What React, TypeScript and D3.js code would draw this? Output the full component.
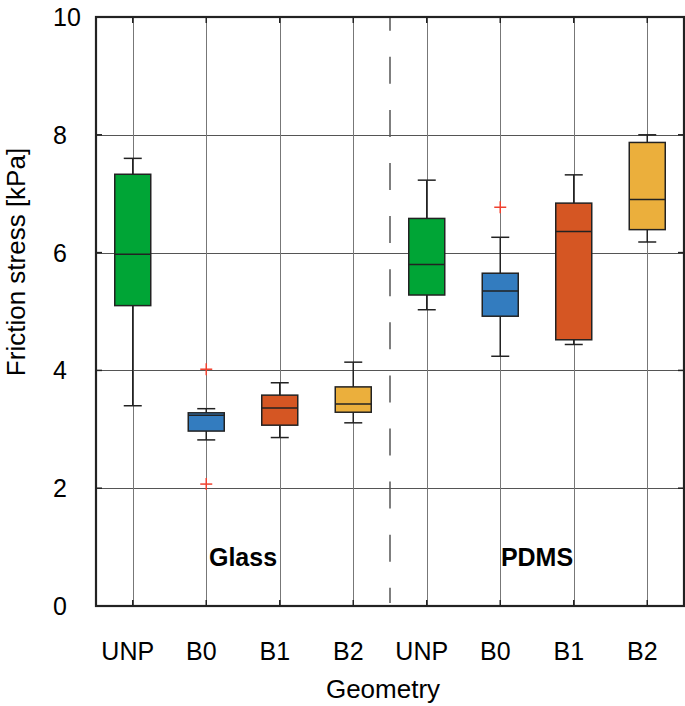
import React from "react";
import * as d3 from "d3";

const categories = ["UNP", "B0", "B1", "B2", "UNP", "B0", "B1", "B2"];
const groupLabels = ["Glass", "PDMS"];
const whiskerLow = [3.4, 2.82, 2.86, 3.11, 5.03, 4.24, 4.44, 6.18];
const q1 = [5.1, 2.97, 3.07, 3.29, 5.28, 4.92, 4.52, 6.39];
const median = [5.97, 3.24, 3.36, 3.43, 5.8, 5.35, 6.36, 6.9];
const q3 = [7.33, 3.28, 3.58, 3.72, 6.58, 5.65, 6.84, 7.87];
const whiskerHigh = [7.6, 3.35, 3.79, 4.14, 7.23, 6.26, 7.32, 8.0];
const outliers: number[][] = [[], [4.02, 2.07], [], [], [], [6.77], [], []];
const colors = ["#00A536", "#337CBF", "#D55623", "#EBAF3C"];
const yTicks = [0, 2, 4, 6, 8, 10];

const W = 685;
const H = 706;
const left = 96;
const right = 684;
const top = 17;
const bottom = 606;
const font = "'Liberation Sans', Arial, sans-serif";

export default function App() {
  const idx = categories.map((_, i) => i);
  const x = d3.scalePoint<number>().domain(idx).range([left, right]).padding(0.5);
  const y = d3.scaleLinear().domain([0, 10]).range([bottom, top]);
  const step = x.step();
  const boxW = 36;
  const capW = 18;
  const divX = left + step * 4;

  return (
    <svg width={W} height={H} style={{ position: "absolute", left: 0, top: 0 }}>
      <rect x={0} y={0} width={W} height={H} fill="#fff" />
      {/* horizontal grid */}
      {yTicks.filter((t) => t > 0 && t < 10).map((t) => (
        <line key={"h" + t} x1={left} x2={right} y1={Math.round(y(t)) + 0.5} y2={Math.round(y(t)) + 0.5} stroke="#555" strokeWidth={1} />
      ))}
      {/* vertical grid */}
      {idx.map((i) => (
        <line key={"v" + i} x1={Math.round(x(i)!) + 0.5} x2={Math.round(x(i)!) + 0.5} y1={top} y2={bottom} stroke="#777" strokeWidth={1} />
      ))}
      {/* divider */}
      <line x1={divX} x2={divX} y1={top} y2={603} stroke="#555" strokeWidth={1.5} strokeDasharray="27 26.1" strokeDashoffset={13.3} />
      {/* ticks */}
      {yTicks.map((t) => (
        <g key={"yt" + t}>
          <line x1={left} x2={left + 6} y1={y(t)} y2={y(t)} stroke="#222" strokeWidth={1.5} />
          <line x1={right - 6} x2={right} y1={y(t)} y2={y(t)} stroke="#222" strokeWidth={1.5} />
        </g>
      ))}
      {idx.map((i) => (
        <g key={"xt" + i}>
          <line x1={x(i)!} x2={x(i)!} y1={bottom} y2={bottom - 6} stroke="#222" strokeWidth={1.5} />
          <line x1={x(i)!} x2={x(i)!} y1={top} y2={top + 6} stroke="#222" strokeWidth={1.5} />
        </g>
      ))}
      {/* boxes */}
      {idx.map((i) => {
        const cx = x(i)!;
        const c = colors[i % 4];
        return (
          <g key={"b" + i}>
            <line x1={cx} x2={cx} y1={y(whiskerHigh[i])} y2={y(q3[i])} stroke="#222" strokeWidth={1.5} />
            <line x1={cx} x2={cx} y1={y(q1[i])} y2={y(whiskerLow[i])} stroke="#222" strokeWidth={1.5} />
            <line x1={cx - capW / 2} x2={cx + capW / 2} y1={y(whiskerHigh[i])} y2={y(whiskerHigh[i])} stroke="#222" strokeWidth={1.5} />
            <line x1={cx - capW / 2} x2={cx + capW / 2} y1={y(whiskerLow[i])} y2={y(whiskerLow[i])} stroke="#222" strokeWidth={1.5} />
            <rect x={cx - boxW / 2} y={y(q3[i])} width={boxW} height={y(q1[i]) - y(q3[i])} fill={c} stroke="#222" strokeWidth={1.5} />
            <line x1={cx - boxW / 2} x2={cx + boxW / 2} y1={y(median[i])} y2={y(median[i])} stroke="#222" strokeWidth={1.5} />
            {outliers[i].map((o, k) => (
              <g key={k} stroke="#F0412F" strokeWidth={1.5}>
                <line x1={cx - 6} x2={cx + 6} y1={y(o)} y2={y(o)} />
                <line x1={cx} x2={cx} y1={y(o) - 6} y2={y(o) + 6} />
              </g>
            ))}
          </g>
        );
      })}
      {/* axes frame */}
      <rect x={left} y={top} width={right - left} height={bottom - top} fill="none" stroke="#222" strokeWidth={2.2} />
      {/* y tick labels */}
      {yTicks.map((t) => (
        <text key={"yl" + t} x={53} y={y(t) + 9} fontFamily={font} fontSize={25} fill="#000">{t}</text>
      ))}
      {/* x tick labels */}
      {idx.map((i) => (
        <text key={"xl" + i} x={x(i)! - 5} y={660} textAnchor="middle" fontFamily={font} fontSize={25} fill="#000">{categories[i]}</text>
      ))}
      {/* group labels */}
      {groupLabels.map((g, k) => (
        <text key={g} x={(x(k * 4 + 1)! + x(k * 4 + 2)!) / 2} y={566} textAnchor="middle" fontFamily={font} fontWeight="bold" fontSize={25} fill="#000">{g}</text>
      ))}
      <text x={383} y={698} textAnchor="middle" fontFamily={font} fontSize={26} fill="#000">Geometry</text>
      <text transform="translate(25,262) rotate(-90)" textAnchor="middle" fontFamily={font} fontSize={26} fill="#000">Friction stress [kPa]</text>
    </svg>
  );
}
